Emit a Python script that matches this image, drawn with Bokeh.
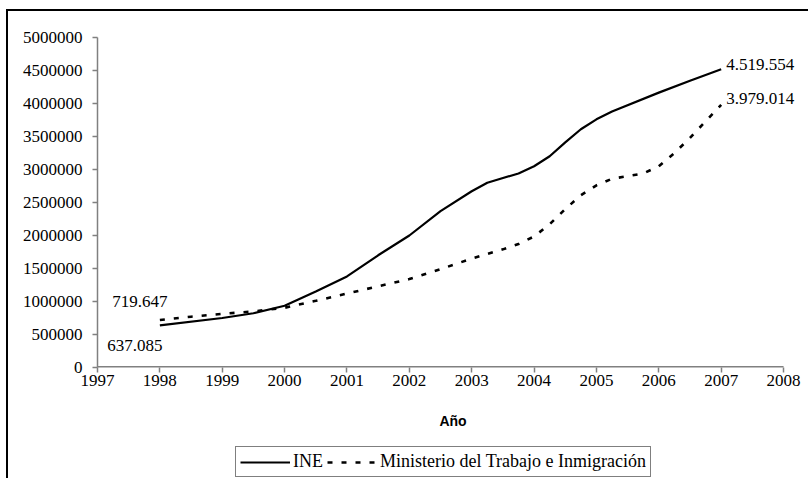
from bokeh.plotting import figure
from bokeh.layouts import column
from bokeh.models import (Legend, LegendItem, Label, NumeralTickFormatter,
                          FixedTicker, Range1d, ColumnDataSource)
from bokeh.embed import file_html
from bokeh.resources import INLINE

# ---- data ----
years_ine = [1998, 1999, 1999.5, 2000, 2000.5, 2001, 2001.5, 2002, 2002.5,
             2003, 2003.25, 2003.75, 2004, 2004.25, 2004.5, 2004.75, 2005,
             2005.25, 2006, 2006.5, 2007]
ine = [637085, 750000, 822000, 935000, 1150000, 1380000, 1700000, 2000000,
       2370000, 2670000, 2800000, 2940000, 3050000, 3200000, 3410000,
       3610000, 3760000, 3880000, 4165000, 4345000, 4519554]

years_mt = [1998, 1998.5, 1999, 1999.5, 2000, 2000.5, 2001, 2001.5, 2002,
            2002.5, 2003, 2003.5, 2003.75, 2004, 2004.25, 2004.5, 2004.75,
            2005, 2005.25, 2005.5, 2005.75, 2006, 2006.25, 2006.5, 2006.75,
            2007]
mt = [719647, 770000, 812000, 850000, 905000, 1010000, 1120000, 1230000,
      1340000, 1490000, 1650000, 1790000, 1870000, 1985000, 2170000,
      2400000, 2610000, 2760000, 2860000, 2900000, 2940000, 3050000,
      3250000, 3480000, 3730000, 3979014]

x_ticks = list(range(1997, 2009))
y_ticks = list(range(0, 5000001, 500000))

series_names = ["INE", "Ministerio del Trabajo e Inmigración"]
x_label = "Año"


def fmt(v):
    return f"{v:,}".replace(",", ".")


SERIF = "Liberation Serif"
GRAY = "#808080"
FS = "17px"
W = 800

# main chart: the frame runs to the right edge so the end labels fit
p = figure(width=W, height=430, output_backend="svg", toolbar_location=None,
           x_range=Range1d(x_ticks[0], x_ticks[-1] + 0.40),
           y_range=Range1d(y_ticks[0], y_ticks[-1]),
           min_border_left=89, min_border_top=26, min_border_right=0,
           min_border_bottom=74)
p.outline_line_color = None
p.xgrid.visible = False
p.ygrid.visible = False
p.background_fill_color = "white"
p.border_fill_color = "white"

line_ine = dict(line_color="black", line_width=2.2, line_join="round")
line_mt = dict(line_color="black", line_width=2.6, line_dash="5 9")

src_ine = ColumnDataSource(dict(x=years_ine, y=ine))
src_mt = ColumnDataSource(dict(x=years_mt, y=mt))
p.line("x", "y", source=src_ine, **line_ine)
p.line("x", "y", source=src_mt, **line_mt)

# x axis line only from the first to the last tick
p.segment(x0=[x_ticks[0]], y0=[y_ticks[0]], x1=[x_ticks[-1]], y1=[y_ticks[0]],
          line_color=GRAY, line_width=3)

for ax in (p.xaxis[0], p.yaxis[0]):
    ax.axis_line_color = GRAY
    ax.axis_line_width = 1.5
    ax.major_tick_line_color = GRAY
    ax.major_tick_line_width = 1.5
    ax.major_tick_out = 5
    ax.major_tick_in = 0
    ax.minor_tick_line_color = None
    ax.major_label_text_font = SERIF
    ax.major_label_text_font_size = FS
    ax.major_label_text_color = "black"

p.xaxis.axis_line_color = None
p.xaxis.ticker = FixedTicker(ticks=x_ticks)
p.yaxis.ticker = FixedTicker(ticks=y_ticks)
p.yaxis.formatter = NumeralTickFormatter(format="0")
p.xaxis.major_label_standoff = 2
p.yaxis.major_label_standoff = 10
p.xaxis.axis_label = x_label
p.xaxis.axis_label_text_font = "Liberation Sans"
p.xaxis.axis_label_text_font_style = "bold"
p.xaxis.axis_label_text_font_size = "14px"
p.xaxis.axis_label_text_color = "black"
p.xaxis.axis_label_standoff = 24

lab_kw = dict(text_font=SERIF, text_font_size=FS, text_color="black",
              text_baseline="middle")
p.add_layout(Label(x=years_mt[0], y=mt[0], text=fmt(mt[0]), x_offset=-20,
                   y_offset=19, text_align="center", **lab_kw))
p.add_layout(Label(x=years_ine[0], y=ine[0], text=fmt(ine[0]), x_offset=-25,
                   y_offset=-20, text_align="center", **lab_kw))
p.add_layout(Label(x=years_ine[-1], y=ine[-1], text=fmt(ine[-1]), x_offset=5,
                   y_offset=5, text_align="left", **lab_kw))
p.add_layout(Label(x=years_mt[-1], y=mt[-1], text=fmt(mt[-1]), x_offset=5,
                   y_offset=6, text_align="left", **lab_kw))

# legend strip below the chart (its frame is aligned with the main frame)
p2 = figure(width=W, height=37, output_backend="svg", toolbar_location=None,
            x_range=Range1d(0, 1), y_range=Range1d(0, 1),
            min_border=0, x_axis_type=None, y_axis_type=None)
p2.outline_line_color = None
p2.xgrid.visible = False
p2.ygrid.visible = False
p2.border_fill_color = "white"
# legend-only renderers, their points lie outside the visible range
d1 = p2.line(x=[-2, -1], y=[-2, -1], **line_ine)
d2 = p2.line(x=[-2, -1], y=[-2, -1], **line_mt)
legend = Legend(items=[LegendItem(label=series_names[0], renderers=[d1]),
                       LegendItem(label=series_names[1], renderers=[d2])],
                orientation="horizontal", location=(138, 1),
                glyph_width=50, glyph_height=18, label_standoff=3,
                spacing=4, padding=4, margin=0,
                border_line_color="black", border_line_width=1,
                label_text_font=SERIF, label_text_font_size="18px",
                label_text_color="black", background_fill_alpha=1)
p2.add_layout(legend, "center")

layout = column(p, p2, spacing=0,
                styles={"border-top": "2px solid black",
                        "border-left": "2px solid black",
                        "margin-left": "6px", "margin-top": "9px"})

open("out.html", "w").write(file_html(layout, INLINE))
